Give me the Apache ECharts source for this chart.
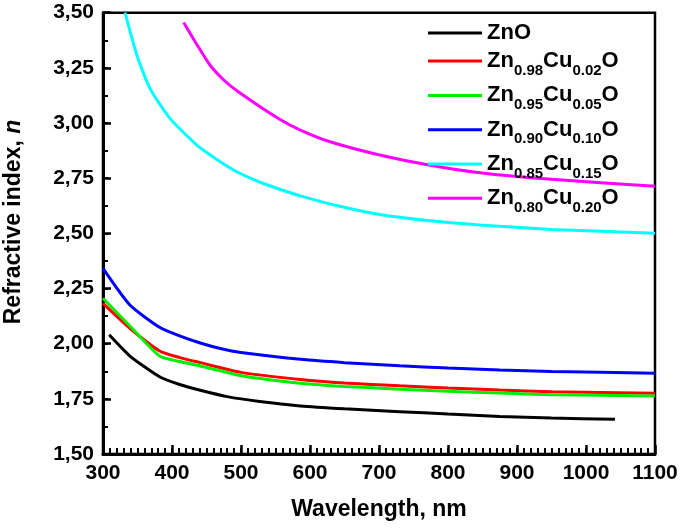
<!DOCTYPE html>
<html>
<head>
<meta charset="utf-8">
<script src="https://cdn.jsdelivr.net/npm/echarts@6/dist/echarts.min.js"></script>
<style>
html,body{margin:0;padding:0;background:#fff;}
#chart{width:685px;height:531px;}
</style>
</head>
<body>
<div id="chart"></div>
<script>
// Data (wavelength nm, refractive index n)
const seriesNames = ['ZnO', 'Zn0.98Cu0.02O', 'Zn0.95Cu0.05O', 'Zn0.90Cu0.10O', 'Zn0.85Cu0.15O', 'Zn0.80Cu0.20O'];
const seriesColors = ['#000000', '#ff0000', '#00ee00', '#0000ff', '#00ffff', '#ff00ff'];
const znO = [[309,2.040],[339,1.944],[382,1.850],[411,1.815],[441,1.789],[480,1.760],[527,1.738],[586,1.718],[650,1.705],[730,1.692],[800,1.681],[875,1.670],[950,1.663],[1042,1.657]];
const cu002 = [[300,2.183],[339,2.070],[382,1.967],[411,1.937],[441,1.914],[500,1.870],[586,1.838],[650,1.822],[730,1.809],[800,1.799],[875,1.790],[950,1.782],[1100,1.775]];
const cu005 = [[300,2.206],[339,2.080],[382,1.944],[411,1.919],[441,1.899],[500,1.855],[586,1.821],[650,1.806],[730,1.794],[800,1.784],[875,1.776],[950,1.769],[1100,1.763]];
const cu010 = [[300,2.341],[339,2.175],[382,2.074],[411,2.035],[441,2.003],[470,1.978],[500,1.960],[586,1.929],[650,1.914],[730,1.900],[800,1.890],[875,1.881],[950,1.874],[1100,1.866]];
const cu015 = [[332,3.500],[349,3.308],[368,3.157],[397,3.021],[436,2.900],[465,2.835],[494,2.779],[525,2.735],[556,2.700],[586,2.670],[640,2.625],[701,2.585],[770,2.558],[846,2.538],[950,2.518],[1100,2.500]];
const cu020 = [[417,3.456],[436,3.356],[455,3.263],[475,3.195],[496,3.142],[556,3.017],[586,2.968],[629,2.915],[701,2.855],[774,2.809],[846,2.775],[950,2.745],[1100,2.714]];
const seriesData = [znO, cu002, cu005, cu010, cu015, cu020];
const xTicks = {min: 300, max: 1100, step: 100, minorStep: 10};
const yTicks = {min: 1.5, max: 3.5, step: 0.25, minorStep: 0.125};

const FONT = 'Liberation Sans, Arial, sans-serif';
const chart = echarts.init(document.getElementById('chart'), null, {renderer: 'canvas'});

function legendLabel(name) {
  const m = name.match(/^Zn([\d.]+)Cu([\d.]+)O$/);
  if (!m) return name;
  return 'Zn{sub|' + m[1] + '}Cu{sub|' + m[2] + '}O';
}
const legendText = {
  color: '#000', fontFamily: FONT, fontWeight: 'bold', fontSize: 22, lineHeight: 34,
  rich: {sub: {fontFamily: FONT, fontWeight: 'bold', fontSize: 15, lineHeight: 20, verticalAlign: 'bottom', color: '#000'}}
};
const legendTops = [16, 44, 78.4, 112.7, 147, 181.3];
const legends = seriesNames.map((n, i) => ({
  data: [n], left: 428, top: legendTops[i], orient: 'vertical',
  icon: 'rect', itemWidth: 54, itemHeight: 3, itemGap: 0, padding: 0,
  formatter: legendLabel, textStyle: legendText, selectedMode: false
}));

const hidden = {show: false};
chart.setOption({
  animation: false,
  backgroundColor: '#fff',
  grid: {left: 103, right: 30, top: 12.7, bottom: 77, show: true, borderColor: '#000', borderWidth: 2.5, backgroundColor: 'transparent'},
  legend: legends,
  xAxis: [{
    // minor ticks every 10 nm
    type: 'value', position: 'bottom', min: xTicks.min, max: xTicks.max, interval: xTicks.minorStep,
    axisLine: {show: false, onZero: false}, axisLabel: hidden, splitLine: hidden,
    axisTick: {show: true, inside: true, length: 6, lineStyle: {color: '#000', width: 2}}
  }, {
    type: 'value', position: 'bottom', min: xTicks.min, max: xTicks.max, interval: xTicks.step,
    name: 'Wavelength, nm', nameLocation: 'middle', nameGap: 44,
    nameTextStyle: {fontFamily: FONT, fontWeight: 'bold', fontSize: 23, color: '#000'},
    axisLine: {show: true, onZero: false, lineStyle: {color: '#000', width: 3}},
    axisTick: {show: true, inside: true, length: 9, lineStyle: {color: '#000', width: 2.5}},
    axisLabel: {fontFamily: FONT, fontWeight: 'bold', fontSize: 21, color: '#000', margin: 9, formatter: v => String(v)},
    splitLine: hidden
  }],
  yAxis: [{
    // minor ticks every 0.125
    type: 'value', position: 'left', min: yTicks.min, max: yTicks.max, interval: yTicks.minorStep,
    axisLine: {show: false, onZero: false}, axisLabel: hidden, splitLine: hidden,
    axisTick: {show: true, inside: true, length: 5, lineStyle: {color: '#000', width: 2}}
  }, {
    type: 'value', position: 'left', min: yTicks.min, max: yTicks.max, interval: yTicks.step,
    axisLine: {show: true, onZero: false, lineStyle: {color: '#000', width: 3}},
    axisTick: {show: true, inside: true, length: 8, lineStyle: {color: '#000', width: 2.5}},
    axisLabel: {fontFamily: FONT, fontWeight: 'bold', fontSize: 21, color: '#000', margin: 9,
      formatter: v => v.toFixed(2).replace('.', ',')},
    splitLine: hidden
  }],
  graphic: [{
    type: 'text', x: 14, y: 222, rotation: Math.PI / 2,
    style: {
      text: 'Refractive index, {i|n}', align: 'center', verticalAlign: 'middle',
      font: 'bold 23px ' + FONT, fill: '#000',
      rich: {i: {fontFamily: FONT, fontWeight: 'bold', fontStyle: 'italic', fontSize: 23, fill: '#000', color: '#000'}}
    }
  }],
  series: seriesNames.map((n, i) => ({
    name: n, type: 'line', data: seriesData[i], xAxisIndex: 1, yAxisIndex: 1,
    smooth: 0.2,
    showSymbol: false, symbol: 'none', clip: true,
    lineStyle: {color: seriesColors[i], width: 3},
    itemStyle: {color: seriesColors[i]}
  }))
});
</script>
</body>
</html>
